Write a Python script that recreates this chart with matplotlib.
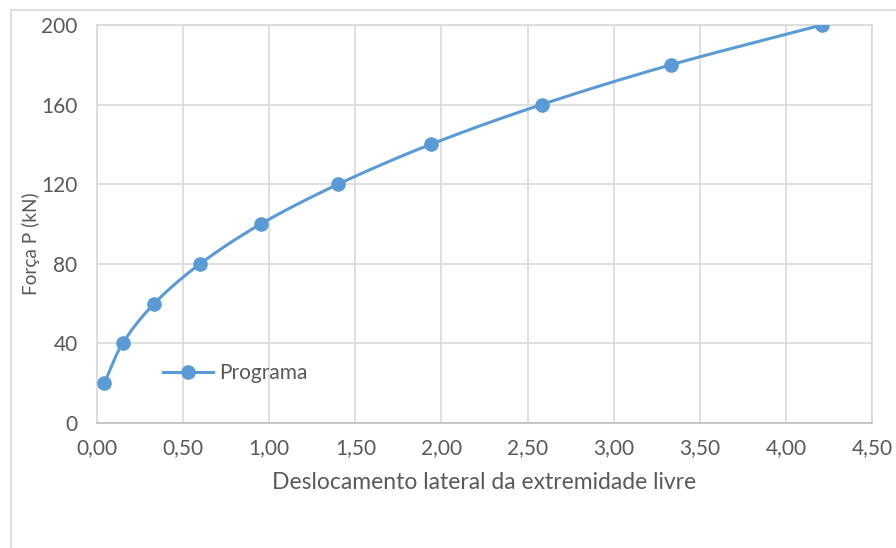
import numpy as np
import matplotlib
matplotlib.use("Agg")
import matplotlib.pyplot as plt
from matplotlib.patches import Rectangle
from matplotlib.lines import Line2D

# Load-displacement results
deslocamento = [0.042, 0.149, 0.332, 0.599, 0.951, 1.40, 1.937, 2.581, 3.333, 4.209]
forca = [20, 40, 60, 80, 100, 120, 140, 160, 180, 200]
serie = "Programa"
x_ticks = [0.0, 0.5, 1.0, 1.5, 2.0, 2.5, 3.0, 3.5, 4.0, 4.5]
y_ticks = [0, 40, 80, 120, 160, 200]

BLUE = "#5b9bd5"
GRID = "#d9d9d9"
TEXT = "#595959"

plt.rcParams["font.family"] = ["Lato", "DejaVu Sans"]

W, H = 896, 548
fig = plt.figure(figsize=(W / 100, H / 100), dpi=100)

# chart area frame
fig.patches.append(Rectangle((11 / W, -0.05), (W - 11) / W + 0.05, (H - 10) / H + 0.05,
                             transform=fig.transFigure, fill=False,
                             edgecolor="#d9d9d9", linewidth=1.2))

l, r, t, b = 97, 872, 25, 423
ax = fig.add_axes([l / W, 1 - b / H, (r - l) / W, (b - t) / H])


def smooth(xs, ys, n=30):
    # Catmull-Rom spline through the points (smoothed line)
    p = np.column_stack([xs, ys]).astype(float)
    p = np.vstack([p[0] - (p[1] - p[0]), p, p[-1] + (p[-1] - p[-2])])
    out = []
    for i in range(1, len(p) - 2):
        p0, p1, p2, p3 = p[i - 1], p[i], p[i + 1], p[i + 2]
        tt = np.linspace(0, 1, n, endpoint=False)[:, None]
        c = 0.5 * ((2 * p1) + (-p0 + p2) * tt + (2 * p0 - 5 * p1 + 4 * p2 - p3) * tt ** 2
                   + (-p0 + 3 * p1 - 3 * p2 + p3) * tt ** 3)
        out.append(c)
    out.append(p[-2][None, :])
    c = np.vstack(out)
    return c[:, 0], c[:, 1]


sx, sy = smooth(deslocamento, forca)
ax.plot(sx, sy, color=BLUE, linewidth=2.2, solid_capstyle="round", zorder=3)
ax.plot(deslocamento, forca, linestyle="none", marker="o", markersize=9.5,
        color=BLUE, zorder=4)

ax.set_xlim(0, 4.5)
ax.set_ylim(0, 200)
ax.set_xticks(x_ticks)
ax.set_yticks(y_ticks)
ax.set_xticklabels([f"{v:.2f}".replace(".", ",") for v in x_ticks])
ax.set_yticklabels([str(v) for v in y_ticks])
ax.tick_params(axis="both", length=0, labelsize=15, colors=TEXT)
ax.tick_params(axis="y", pad=14)
ax.tick_params(axis="x", pad=11)
ax.grid(True, color=GRID, linewidth=1.2)
ax.set_axisbelow(True)
for s in ax.spines.values():
    s.set_color(GRID)
    s.set_linewidth(1.2)
ax.spines["bottom"].set_color("#bfbfbf")

ax.set_xlabel("Deslocamento lateral da extremidade livre", fontsize=16.5,
              color=TEXT, labelpad=10)
fig.text(31 / W, 1 - 244 / H, "Força P (kN)", rotation=90, fontsize=13.7,
         color=TEXT, ha="center", va="center")

handle = Line2D([], [], color=BLUE, linewidth=2.2, marker="o", markersize=9.5)
ax.legend([handle], [serie], loc="center left", bbox_to_anchor=(66 / (r - l), 50 / (b - t)),
          frameon=False, fontsize=15, labelcolor=TEXT, handlelength=2.4,
          handletextpad=0.3, borderpad=0, borderaxespad=0)

fig.savefig("out.png", dpi=100, facecolor="white")
